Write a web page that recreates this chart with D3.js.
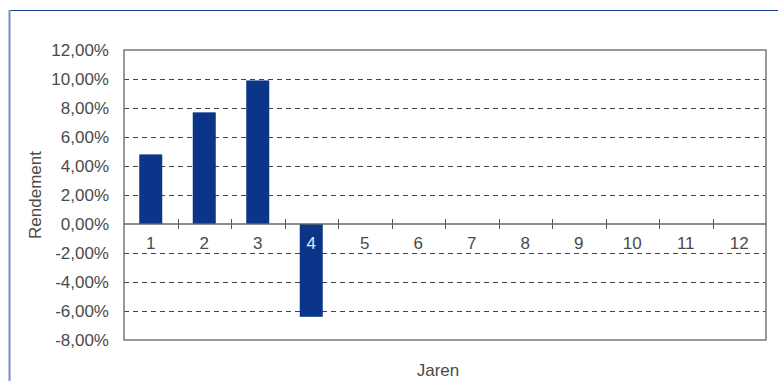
<!DOCTYPE html>
<html>
<head>
<meta charset="utf-8">
<script src="https://cdn.jsdelivr.net/npm/d3@7"></script>
<style>
  body { margin: 0; background: #fff; }
  text { font-family: "Liberation Sans", Arial, sans-serif; }
</style>
</head>
<body>
<svg id="chart" width="778" height="381"></svg>
<script>
// chart data
var years = ["1", "2", "3", "4", "5", "6", "7", "8", "9", "10", "11", "12"];
var returns = [4.8, 7.7, 9.9, -6.4, null, null, null, null, null, null, null, null];
var yTicks = [12, 10, 8, 6, 4, 2, 0, -2, -4, -6, -8];

var svg = d3.select("#chart");
var plotLeft = 124, plotRight = 766, plotTop = 50, plotBottom = 340;

// outer frame (top and left edges only visible)
svg.append("line").attr("x1", 9).attr("x2", 778).attr("y1", 10.5).attr("y2", 10.5)
    .attr("stroke", "#1c3f92").attr("stroke-width", 1.2);
svg.append("line").attr("x1", 9.5).attr("x2", 9.5).attr("y1", 10).attr("y2", 381)
    .attr("stroke", "#7b8cc6").attr("stroke-width", 2);

var x = d3.scaleBand().domain(years).range([plotLeft, plotRight]).paddingInner(0.57).paddingOuter(0.285);
var xb = d3.scaleBand().domain(years).range([plotLeft, plotRight]); // tick positions
var y = d3.scaleLinear().domain([-8, 12]).range([plotBottom, plotTop]);

// dashed gridlines
svg.append("g").selectAll("line")
    .data(yTicks.filter(function(d) { return d != 0 && d != 12 && d != -8; }))
    .enter().append("line")
    .attr("x1", plotLeft).attr("x2", plotRight)
    .attr("y1", function(d) { return Math.round(y(d)) + 0.5; })
    .attr("y2", function(d) { return Math.round(y(d)) + 0.5; })
    .attr("stroke", "#444").attr("stroke-width", 1)
    .attr("stroke-dasharray", "5,4");

// plot border
svg.append("rect").attr("x", plotLeft).attr("y", plotTop)
    .attr("width", plotRight - plotLeft).attr("height", plotBottom - plotTop)
    .attr("fill", "none").attr("stroke", "#777").attr("stroke-width", 1.5);

// y labels
svg.append("g").selectAll("text")
    .data(yTicks)
    .enter().append("text")
    .attr("x", 109)
    .attr("y", function(d) { return y(d); })
    .attr("dy", "0.35em")
    .attr("text-anchor", "end")
    .attr("font-size", 17)
    .attr("fill", "#4a4a4a")
    .text(function(d) { return d3.format(".2f")(d).replace(".", ",").replace("−", "-") + "%"; });

// bars
svg.append("g").selectAll("rect")
    .data(returns.map(function(v, i) { return { year: years[i], value: v }; })
        .filter(function(d) { return d.value != null; }))
    .enter().append("rect")
    .attr("x", function(d) { return x(d.year); })
    .attr("width", x.bandwidth())
    .attr("y", function(d) { return y(Math.max(0, d.value)); })
    .attr("height", function(d) { return Math.abs(y(d.value) - y(0)); })
    .attr("fill", "#0a3589");

// x axis line and cross ticks
svg.append("line").attr("x1", plotLeft).attr("x2", plotRight)
    .attr("y1", y(0)).attr("y2", y(0))
    .attr("stroke", "#666").attr("stroke-width", 1.5);
svg.append("g").selectAll("line")
    .data(years.slice(1))
    .enter().append("line")
    .attr("x1", function(d) { return Math.round(xb(d)) + 0.5; })
    .attr("x2", function(d) { return Math.round(xb(d)) + 0.5; })
    .attr("y1", y(0) - 5).attr("y2", y(0) + 5)
    .attr("stroke", "#555").attr("stroke-width", 1);

// x labels (white where they sit on a negative bar)
svg.append("g").selectAll("text")
    .data(years)
    .enter().append("text")
    .attr("x", function(d) { return xb(d) + xb.bandwidth() / 2; })
    .attr("y", 243)
    .attr("dy", "0.35em")
    .attr("text-anchor", "middle")
    .attr("font-size", 17)
    .attr("fill", function(d, i) { return returns[i] != null && y(returns[i]) > 250 ? "#e8ecf5" : "#4a4a4a"; })
    .text(function(d) { return d; });

// axis titles
svg.append("text")
    .attr("transform", "translate(35," + ((plotTop + plotBottom) / 2) + ") rotate(-90)")
    .attr("dy", "0.35em")
    .attr("text-anchor", "middle")
    .attr("font-size", 17)
    .attr("fill", "#4a4a4a")
    .text("Rendement");
svg.append("text")
    .attr("x", 438).attr("y", 370)
    .attr("dy", "0.35em")
    .attr("text-anchor", "middle")
    .attr("font-size", 17)
    .attr("fill", "#4a4a4a")
    .text("Jaren");
</script>
</body>
</html>
